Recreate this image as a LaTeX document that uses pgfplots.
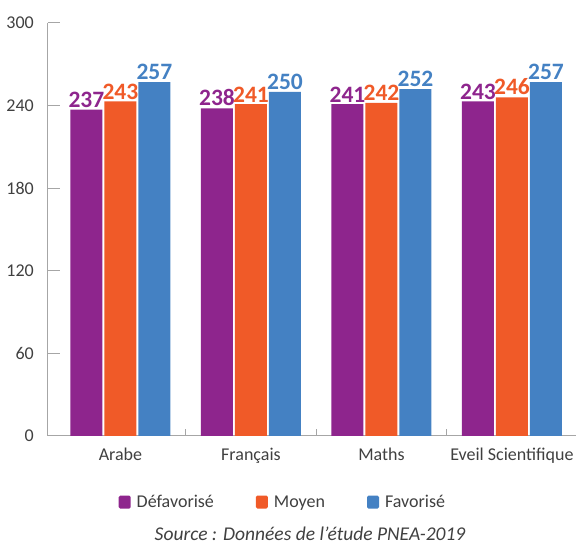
\documentclass[border=0pt]{standalone}
\usepackage{pgfplots}
\pgfplotsset{compat=1.18}
\usepackage{fontspec}
\setmainfont{Carlito}
\definecolor{cPurple}{HTML}{8E258D}
\definecolor{cOrange}{HTML}{F05A28}
\definecolor{cBlue}{HTML}{4481C3}
\definecolor{axisgray}{HTML}{A6A6A6}
\definecolor{txtgray}{HTML}{404040}
\pgfplotsset{ybar legend/.style={legend image code/.code={\fill[##1, draw=none, rounded corners=1.5pt] (0pt,-6.5pt) rectangle (12pt,6.5pt);}}}
\begin{document}
\begin{tikzpicture}
\useasboundingbox (0,0) rectangle (577pt,545pt);
\begin{axis}[
  at={(47.5pt,109pt)}, anchor=south west,
  scale only axis, width=528pt, height=413pt,
  ybar=2pt, bar width=32pt,
  xmin=-0.559, xmax=3.487, ymin=0, ymax=300,
  ytick={0,60,120,180,240,300},
  xtick={0,1,2,3},
  xticklabels={Arabe,Français,Maths,Eveil Scientifique},
  minor xtick={0.5,1.5,2.5},
  axis lines*=left,
  axis line style={axisgray, line width=1pt},
  tick align=inside,
  tick style={axisgray, line width=1pt},
  major tick length=12pt,
  minor tick length=7pt,
  major x tick style={draw=none},
  /pgf/number format/assume math mode=true,
  ticklabel style={font=\fontsize{18}{20}\selectfont, text=txtgray},
  yticklabel style={anchor=east, inner sep=0pt, xshift=-13.5pt},
  xticklabel style={anchor=north, inner sep=0pt, yshift=-12pt},
  legend columns=3,
  legend style={at={(0.1345,-0.16)}, anchor=west, draw=none, inner sep=0pt,
    font=\fontsize{18}{20}\selectfont, text=txtgray,
    /tikz/every odd column/.append style={column sep=4pt},
    /tikz/every even column/.append style={column sep=40pt}},
  clip=false,
]
\addplot[fill=cPurple, draw=none, nodes near coords,
  every node near coord/.append style={text=cPurple, font=\bfseries\fontsize{23.5}{25}\selectfont, anchor=south, inner sep=0pt, yshift=2pt}]
  coordinates {(0,237) (1,238) (2,241) (3,243)};
\addplot[fill=cOrange, draw=none, nodes near coords,
  every node near coord/.append style={text=cOrange, font=\bfseries\fontsize{23.5}{25}\selectfont, anchor=south, inner sep=0pt, yshift=2pt}]
  coordinates {(0,243) (1,241) (2,242) (3,246)};
\addplot[fill=cBlue, draw=none, nodes near coords,
  every node near coord/.append style={text=cBlue, font=\bfseries\fontsize{23.5}{25}\selectfont, anchor=south, inner sep=0pt, yshift=2pt}]
  coordinates {(0,257) (1,250) (2,252) (3,257)};
\legend{Défavorisé, Moyen, Favorisé}
\end{axis}
\node[font=\itshape\fontsize{19.5}{21}\selectfont, text=txtgray] at (310pt,11pt) {Source : Données de l’étude PNEA-2019};
\end{tikzpicture}
\end{document}
